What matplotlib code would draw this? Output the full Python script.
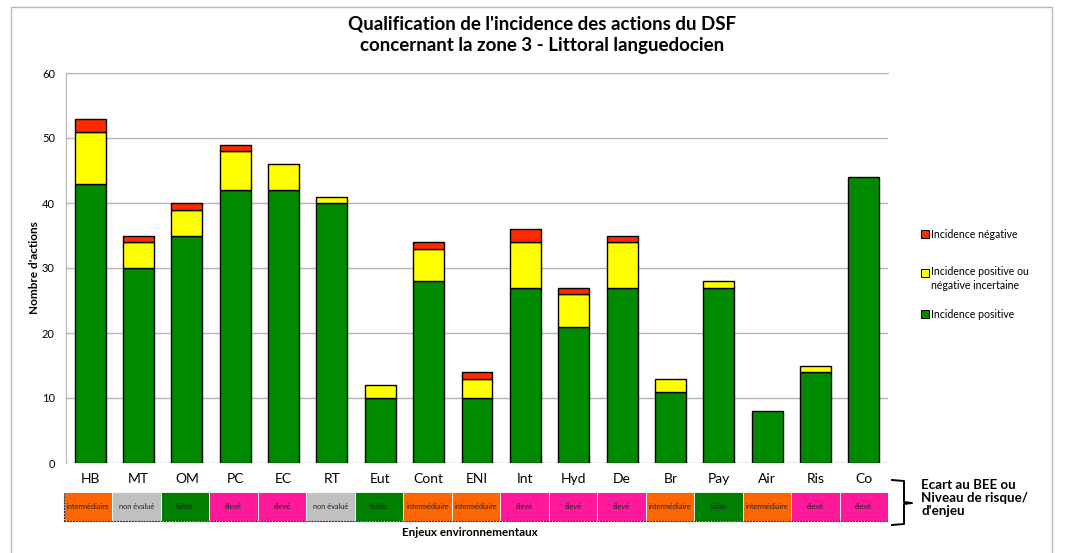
"""
Incidence des actions du DSF - zone 3 (Littoral languedocien)
"""
import numpy as np
import matplotlib; matplotlib.use("Agg")
import matplotlib.pyplot as plt
from matplotlib.patches import Rectangle
from matplotlib.lines import Line2D

plt.rcParams["font.family"] = ["Lato", "DejaVu Sans"]

# --- données ---
enjeux = ["HB", "MT", "OM", "PC", "EC", "RT", "Eut", "Cont", "ENI",
          "Int", "Hyd", "De", "Br", "Pay", "Air", "Ris", "Co"]
positive = [43, 30, 35, 42, 42, 40, 10, 28, 10, 27, 21, 27, 11, 27, 8, 14, 44]
incertaine = [8, 4, 4, 6, 4, 1, 2, 5, 3, 7, 5, 7, 2, 1, 0, 1, 0]
negative = [2, 1, 1, 1, 0, 0, 0, 1, 1, 2, 1, 1, 0, 0, 0, 0, 0]
niveaux = ["intermédiaire", "non évalué", "faible", "élevé", "élevé", "non évalué",
           "faible", "intermédiaire", "intermédiaire", "élevé", "élevé", "élevé",
           "intermédiaire", "faible", "intermédiaire", "élevé", "élevé"]

C_POS, C_INC, C_NEG = "#008a00", "#ffff00", "#ff2a00"
C_NIV = {"intermédiaire": "#ff6600", "non évalué": "#c0c0c0",
         "faible": "#008000", "élevé": "#ff1a9c"}

W, H = 1065, 553
fig = plt.figure(figsize=(W/100, H/100), dpi=100)

def fx(px): return px / W
def fy(py): return 1 - py / H

# cadre extérieur (le bas sort de l'image)
fig.patches.append(Rectangle((fx(11), fy(560)), fx(1052) - fx(11), fy(7) - fy(560),
                             transform=fig.transFigure, fill=False, ec="#b8b8b8", lw=1))

# --- graphique principal ---
ax = fig.add_axes([fx(66), fy(463), fx(888) - fx(66), fy(73) - fy(463)])
x = np.arange(len(enjeux))
pos = np.array(positive); inc = np.array(incertaine); neg = np.array(negative)
bw = 0.64
ax.bar(x, pos, bw, color=C_POS, edgecolor="black", lw=1, zorder=3)
ax.bar(x[inc > 0], inc[inc > 0], bw, bottom=pos[inc > 0], color=C_INC,
       edgecolor="black", lw=1, zorder=3)
ax.bar(x[neg > 0], neg[neg > 0], bw, bottom=(pos + inc)[neg > 0], color=C_NEG,
       edgecolor="black", lw=1, zorder=3)
ax.set_xlim(-0.5, len(enjeux) - 0.5)
ax.set_ylim(0, 60)
ax.set_yticks(range(0, 61, 10))
ax.yaxis.grid(True, color="#b4b4b4", lw=1, zorder=0)
ax.set_xticks(x)
ax.set_xticklabels(enjeux, fontsize=10)
ax.tick_params(axis="x", length=0, pad=7)
ax.tick_params(axis="y", labelsize=8, length=0, pad=8)
for s in ["right", "bottom"]:
    ax.spines[s].set_visible(False)
for s in ["left", "top"]:
    ax.spines[s].set_color("#b4b4b4")
fig.text(fx(35), fy(268), "Nombre d'actions", rotation=90, ha="center", va="center",
         fontsize=8.5, fontweight="bold")

fig.text(fx(542), fy(35), "Qualification de l'incidence des actions du DSF\n"
         "concernant la zone 3 - Littoral languedocien", ha="center", va="center",
         fontsize=13.5, fontweight="bold", linespacing=1.3)

# --- bandeau niveau d'enjeu ---
sx = fig.add_axes([fx(64), fy(521), fx(888) - fx(64), fy(492) - fy(521)])
sx.bar(x, np.ones(len(x)), 1.0, color=[C_NIV[n] for n in niveaux],
       edgecolor="white", lw=0.6)
for i, n in enumerate(niveaux):
    sx.text(i, 0.5, n, ha="center", va="center", fontsize=5.3, color="#222222")
sx.set_xlim(-0.5, len(enjeux) - 0.5)
sx.set_ylim(0, 1)
sx.set_xticks([]); sx.set_yticks([])
for s in sx.spines.values():
    s.set_linestyle(":"); s.set_color("#333333"); s.set_lw(0.8)
for s in ["top", "right"]:
    sx.spines[s].set_visible(False)

fig.text(fx(470), fy(532), "Enjeux environnementaux", ha="center", va="center",
         fontsize=8.4, fontweight="bold")

# accolade + libellé
bx = [fx(892), fx(904), fx(904), fx(912), fx(904), fx(904), fx(892)]
by = [fy(480), fy(481), fy(502), fy(503), fy(504), fy(524), fy(525)]
fig.lines.append(Line2D(bx, by, transform=fig.transFigure, color="black", lw=1.4))
fig.text(fx(921), fy(498), "Ecart au BEE ou\nNiveau de risque/\nd'enjeu", ha="left",
         va="center", fontsize=9.6, fontweight="bold", linespacing=1.1)

# --- légende ---
leg = [(234, C_NEG, "Incidence négative"),
       (273, C_INC, "Incidence positive ou\nnégative incertaine"),
       (314, C_POS, "Incidence positive")]
for py, c, lab in leg:
    fig.patches.append(Rectangle((fx(921), fy(py + 4)), fx(8), fy(0) - fy(8),
                                 transform=fig.transFigure, fc=c, ec="black", lw=0.7))
    if "\n" in lab:
        fig.text(fx(931), fy(py - 7), lab, ha="left", va="top", fontsize=7.6,
                 linespacing=1.35)
    else:
        fig.text(fx(931), fy(py), lab, ha="left", va="center", fontsize=7.6)

fig.savefig("out.png", dpi=100)
